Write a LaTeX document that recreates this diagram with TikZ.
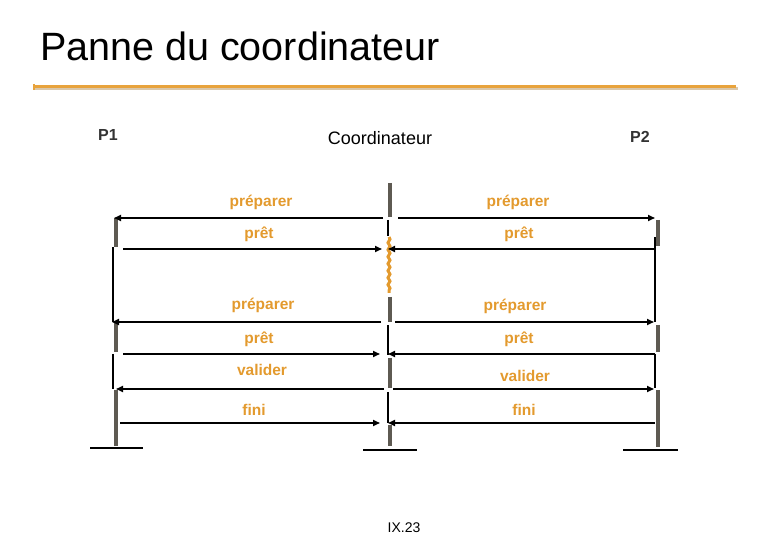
\documentclass[tikz,border=0pt]{standalone}
\usepackage{fontspec}
\setmainfont{Liberation Sans}
\usetikzlibrary{arrows.meta,decorations.pathmorphing}
\definecolor{lbl}{HTML}{E39A2E}
\definecolor{barc}{HTML}{5E5A52}
\definecolor{rule}{HTML}{E8A33C}
\tikzset{
  act/.style={draw=barc,line width=4pt},
  wait/.style={draw=black,line width=1.6pt},
  msg/.style={draw=black,line width=1.6pt,-{Triangle[length=7pt,width=6pt]}},
  lab/.style={text=lbl,font=\fontsize{15.5}{18}\selectfont\bfseries,inner sep=0pt},
  base/.style={draw=black,line width=1.4pt},
  hdr/.style={font=\fontsize{17}{19}\selectfont,inner sep=0pt}
}
\begin{document}
\begin{tikzpicture}[x=1pt,y=-1pt]
\useasboundingbox (0,0) rectangle (780,540);
\node[anchor=west,inner sep=0pt,font=\fontsize{39.5}{42}\selectfont] (title) at (40,46) {Panne du coordinateur};
\draw[draw=rule!70!black!40,line width=3pt] (35,89) -- (738,89);
\draw[draw=rule,line width=3pt] (33,87) -- (736,87);
\draw[draw=rule,line width=2pt] (34,84) -- (34,90);
\node[hdr,font=\fontsize{16}{19}\selectfont\bfseries,text=black!80] (p1) at (108,135) {P1};
\node[hdr,font=\fontsize{18}{20}\selectfont] (co) at (380,138) {Coordinateur};
\node[hdr,font=\fontsize{16}{19}\selectfont\bfseries,text=black!80] (p2) at (640,137) {P2};
% P1
\draw[act] (116,218) -- (116,247);
\draw[wait] (113,247) -- (113,322);
\draw[act] (116,322) -- (116,352);
\draw[wait] (113,354) -- (113,389);
\draw[act] (116,390) -- (116,446);
\draw[base] (90,448) -- (143,448);
% Coordinator
\draw[act] (390,183) -- (390,217);
\draw[wait] (388,220) -- (388,236);
\draw[draw=lbl,line width=3pt,decorate,decoration={snake,amplitude=1pt,segment length=7pt}] (389,237) -- (389,293);
\draw[act] (390,297) -- (390,322);
\draw[wait] (388,325) -- (388,355);
\draw[act] (390,358) -- (390,388);
\draw[wait] (388,392) -- (388,423);
\draw[act] (390,425) -- (390,446);
\draw[base] (363,450) -- (417,450);
% P2
\draw[act] (658,220) -- (658,246);
\draw[wait] (655,237) -- (655,322);
\draw[act] (658,325) -- (658,352);
\draw[wait] (655,354) -- (655,388);
\draw[act] (658,390) -- (658,447);
\draw[base] (623,450) -- (678,450);
% endpoints
\coordinate (c1l) at (383,218); \coordinate (a1l) at (114,218);
\coordinate (c1r) at (398,218); \coordinate (a1r) at (655,218);
\coordinate (b2l) at (123,249); \coordinate (d2l) at (382,249);
\coordinate (b2r) at (655,249); \coordinate (d2r) at (388,249);
\coordinate (c3l) at (381,322); \coordinate (a3l) at (112,322);
\coordinate (c3r) at (395,322); \coordinate (a3r) at (654,322);
\coordinate (b4l) at (123,354); \coordinate (d4l) at (380,354);
\coordinate (b4r) at (655,354); \coordinate (d4r) at (388,354);
\coordinate (c5l) at (384,389); \coordinate (a5l) at (116,389);
\coordinate (c5r) at (393,389); \coordinate (a5r) at (654,389);
\coordinate (b6l) at (120,423); \coordinate (d6l) at (380,423);
\coordinate (b6r) at (655,423); \coordinate (d6r) at (388,423);
\draw[msg] (c1l) -- (a1l); \draw[msg] (c1r) -- (a1r);
\draw[msg] (b2l) -- (d2l); \draw[msg] (b2r) -- (d2r);
\draw[msg] (c3l) -- (a3l); \draw[msg] (c3r) -- (a3r);
\draw[msg] (b4l) -- (d4l); \draw[msg] (b4r) -- (d4r);
\draw[msg] (c5l) -- (a5l); \draw[msg] (c5r) -- (a5r);
\draw[msg] (b6l) -- (d6l); \draw[msg] (b6r) -- (d6r);
% labels
\node[lab] (l1) at (261,202) {préparer};
\node[lab] (r1) at (518,202) {préparer};
\node[lab] (l2) at (259,234) {prêt};
\node[lab] (r2) at (519,234) {prêt};
\node[lab] (l3) at (263,305) {préparer};
\node[lab] (r3) at (515,306) {préparer};
\node[lab] (l4) at (259,339) {prêt};
\node[lab] (r4) at (519,339) {prêt};
\node[lab] (l5) at (262,370) {valider};
\node[lab] (r5) at (525,376) {valider};
\node[lab] (l6) at (254,410) {fini};
\node[lab] (r6) at (524,410) {fini};
\node[inner sep=0pt,font=\fontsize{14}{16}\selectfont] (pg) at (404,528) {IX.23};
\end{tikzpicture}
\end{document}
